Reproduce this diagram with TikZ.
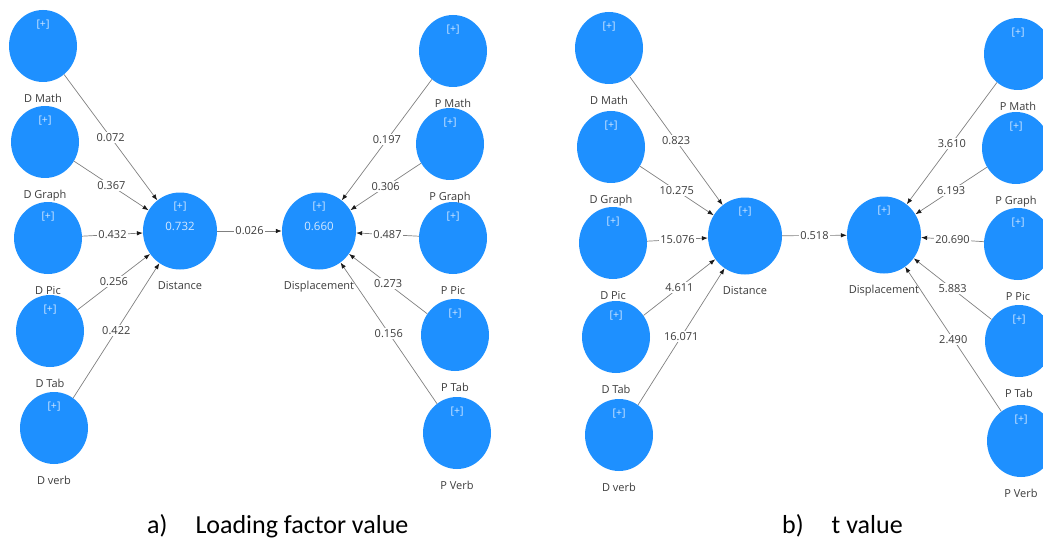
\documentclass[tikz,border=0pt]{standalone}
\usepackage{fontspec}
\setmainfont{Carlito}
\newfontfamily\diagfont{Open Sans}
\usetikzlibrary{arrows.meta, shapes.geometric, positioning}
\definecolor{construct-fill}{HTML}{1E90FF}
\definecolor{construct-text}{HTML}{D2E8FF}
\definecolor{name-text}{HTML}{3C3C3C}
\definecolor{path-line}{HTML}{808080}
\definecolor{arrow}{HTML}{1A1A1A}
\tikzset{
  indicator/.style={
    ellipse, fill=construct-fill, minimum width=68pt, minimum height=72pt,
    inner sep=0pt, text=construct-text, font=\diagfont\fontsize{10.5}{12}\selectfont,
    text height=0pt, text depth=37pt
  },
  latent/.style={indicator, minimum width=74pt, minimum height=77pt, text depth=44pt},
  construct-name/.style={
    text=name-text, font=\diagfont\fontsize{11}{13}\selectfont,
    inner sep=1pt, text height=8pt, text depth=2.5pt
  },
  r-square/.style={text=construct-text, font=\diagfont\fontsize{11.5}{13}\selectfont, inner sep=0pt},
  path-edge/.style={draw=path-line, line width=0.7pt, -{Latex[length=6pt, width=4.5pt, color=arrow]}},
  coef/.style={
    midway, fill=white, text=name-text, inner sep=1.5pt,
    font=\diagfont\fontsize{11}{13}\selectfont
  },
  caption/.style={anchor=base west, inner sep=0pt, font=\fontsize{26}{30}\selectfont}
}

\begin{document}
\begin{tikzpicture}[x=1pt, y=-1pt]
  \useasboundingbox (0,0) rectangle (1043,540);
  \clip (0,0) rectangle (1043,540);

  % a) loading factor value
  \node[indicator] (dm-a) at (43, 46)  {[+]};
  \node[indicator] (dg-a) at (45, 142) {[+]};
  \node[indicator] (dp-a) at (48, 238) {[+]};
  \node[indicator] (dt-a) at (50, 331) {[+]};
  \node[indicator] (dv-a) at (54, 428) {[+]};
  \node[latent]    (dist-a) at (180, 231) {[+]};
  \node[latent]    (disp-a) at (319, 231) {[+]};
  \node[indicator] (pm-a) at (453, 51)  {[+]};
  \node[indicator] (pg-a) at (450, 144) {[+]};
  \node[indicator] (pp-a) at (453, 238) {[+]};
  \node[indicator] (pt-a) at (455, 335) {[+]};
  \node[indicator] (pv-a) at (457, 433) {[+]};

  \node[r-square] (dist-a-r2) at (dist-a) [yshift=5pt] {0.732};
  \node[r-square] (disp-a-r2) at (disp-a) [yshift=5pt] {0.660};

  \node[construct-name, below=11pt of dm-a]   (dm-a-name)   {D Math};
  \node[construct-name, below=11pt of dg-a]   (dg-a-name)   {D Graph};
  \node[construct-name, below=11pt of dp-a]   (dp-a-name)   {D Pic};
  \node[construct-name, below=11pt of dt-a]   (dt-a-name)   {D Tab};
  \node[construct-name, below=11pt of dv-a]   (dv-a-name)   {D verb};
  \node[construct-name, below=11pt of dist-a] (dist-a-name) {Distance};
  \node[construct-name, below=11pt of disp-a] (disp-a-name) {Displacement};
  \node[construct-name, below=11pt of pm-a]   (pm-a-name)   {P Math};
  \node[construct-name, below=11pt of pg-a]   (pg-a-name)   {P Graph};
  \node[construct-name, below=11pt of pp-a]   (pp-a-name)   {P Pic};
  \node[construct-name, below=11pt of pt-a]   (pt-a-name)   {P Tab};
  \node[construct-name, below=11pt of pv-a]   (pv-a-name)   {P Verb};

  \draw[path-edge] (dm-a) -- node[coef] (dm-a-c) {0.072} (dist-a);
  \draw[path-edge] (dg-a) -- node[coef] (dg-a-c) {0.367} (dist-a);
  \draw[path-edge] (dp-a) -- node[coef] (dp-a-c) {0.432} (dist-a);
  \draw[path-edge] (dt-a) -- node[coef] (dt-a-c) {0.256} (dist-a);
  \draw[path-edge] (dv-a) -- node[coef] (dv-a-c) {0.422} (dist-a);
  \draw[path-edge] (dist-a) -- node[coef] (dist-a-c) {0.026} (disp-a);
  \draw[path-edge] (pm-a) -- node[coef] (pm-a-c) {0.197} (disp-a);
  \draw[path-edge] (pg-a) -- node[coef] (pg-a-c) {0.306} (disp-a);
  \draw[path-edge] (pp-a) -- node[coef] (pp-a-c) {0.487} (disp-a);
  \draw[path-edge] (pt-a) -- node[coef] (pt-a-c) {0.273} (disp-a);
  \draw[path-edge] (pv-a) -- node[coef] (pv-a-c) {0.156} (disp-a);

  % b) t value
  \node[indicator] (dm-b) at (609, 48)  {[+]};
  \node[indicator] (dg-b) at (611, 147) {[+]};
  \node[indicator] (dp-b) at (613, 243) {[+]};
  \node[indicator] (dt-b) at (616, 337) {[+]};
  \node[indicator] (dv-b) at (619, 435) {[+]};
  \node[latent]    (dist-b) at (745, 236) {[+]};
  \node[latent]    (disp-b) at (884, 235) {[+]};
  \node[indicator] (pm-b) at (1018, 54)  {[+]};
  \node[indicator] (pg-b) at (1016, 148) {[+]};
  \node[indicator] (pp-b) at (1018, 244) {[+]};
  \node[indicator] (pt-b) at (1019, 341) {[+]};
  \node[indicator] (pv-b) at (1021, 441) {[+]};

  \node[construct-name, below=11pt of dm-b]   (dm-b-name)   {D Math};
  \node[construct-name, below=11pt of dg-b]   (dg-b-name)   {D Graph};
  \node[construct-name, below=11pt of dp-b]   (dp-b-name)   {D Pic};
  \node[construct-name, below=11pt of dt-b]   (dt-b-name)   {D Tab};
  \node[construct-name, below=11pt of dv-b]   (dv-b-name)   {D verb};
  \node[construct-name, below=11pt of dist-b] (dist-b-name) {Distance};
  \node[construct-name, below=11pt of disp-b] (disp-b-name) {Displacement};
  \node[construct-name, below=11pt of pm-b]   (pm-b-name)   {P Math};
  \node[construct-name, below=11pt of pg-b]   (pg-b-name)   {P Graph};
  \node[construct-name, below=11pt of pp-b]   (pp-b-name)   {P Pic};
  \node[construct-name, below=11pt of pt-b]   (pt-b-name)   {P Tab};
  \node[construct-name, below=11pt of pv-b]   (pv-b-name)   {P Verb};

  \draw[path-edge] (dm-b) -- node[coef] (dm-b-c) {0.823} (dist-b);
  \draw[path-edge] (dg-b) -- node[coef] (dg-b-c) {10.275} (dist-b);
  \draw[path-edge] (dp-b) -- node[coef] (dp-b-c) {15.076} (dist-b);
  \draw[path-edge] (dt-b) -- node[coef] (dt-b-c) {4.611} (dist-b);
  \draw[path-edge] (dv-b) -- node[coef] (dv-b-c) {16.071} (dist-b);
  \draw[path-edge] (dist-b) -- node[coef] (dist-b-c) {0.518} (disp-b);
  \draw[path-edge] (pm-b) -- node[coef] (pm-b-c) {3.610} (disp-b);
  \draw[path-edge] (pg-b) -- node[coef] (pg-b-c) {6.193} (disp-b);
  \draw[path-edge] (pp-b) -- node[coef] (pp-b-c) {20.690} (disp-b);
  \draw[path-edge] (pt-b) -- node[coef] (pt-b-c) {5.883} (disp-b);
  \draw[path-edge] (pv-b) -- node[coef] (pv-b-c) {2.490} (disp-b);

  \node[caption] (cap-a) at (147, 533) {a)\hspace{28pt}Loading factor value};
  \node[caption] (cap-b) at (782, 533) {b)\hspace{28pt}t value};
\end{tikzpicture}
\end{document}
